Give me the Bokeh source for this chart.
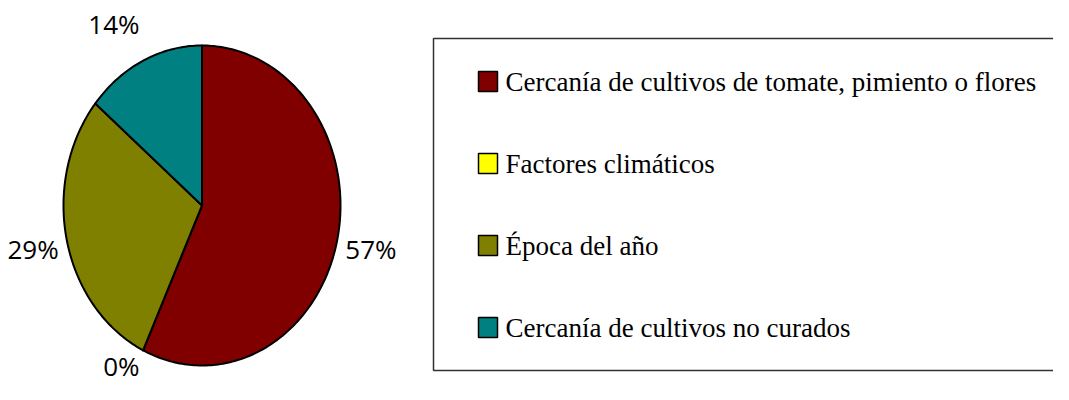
import numpy as np
from bokeh.plotting import figure
from bokeh.models import Range1d, ColumnDataSource
from bokeh.core.properties import value
from bokeh.embed import file_html
from bokeh.resources import INLINE

# ---- data ----
categories = [
    "Cercanía de cultivos de tomate, pimiento o flores",
    "Factores climáticos",
    "Época del año",
    "Cercanía de cultivos no curados",
]
values = [57, 0, 29, 14]
colors = ["#800000", "#FFFF00", "#808000", "#008080"]

# ---- figure (pixel-like coordinates, y downward) ----
W, H = 1053, 384
p = figure(width=W, height=H, x_range=Range1d(0, W), y_range=Range1d(H, 0),
           output_backend="svg", toolbar_location=None, min_border=0)
p.axis.visible = False
p.grid.visible = False
p.outline_line_color = None
p.background_fill_color = "white"
p.border_fill_color = "white"

# ---- pie (elliptical) ----
cx, cy, rx, ry = 201.5, 205.0, 138.5, 160.0
total = float(sum(values))
cum = np.concatenate([[0.0], np.cumsum(values)]) / total * 2 * np.pi
xs, ys = [], []
for i in range(len(values)):
    a0, a1 = cum[i], cum[i + 1]
    n = max(2, int(np.degrees(a1 - a0)) + 2)
    t = np.linspace(a0, a1, n)
    xs.append([cx] + list(cx + rx * np.sin(t)))
    ys.append([cy] + list(cy - ry * np.cos(t)))
pie_src = ColumnDataSource(dict(xs=xs, ys=ys, color=colors))
p.patches("xs", "ys", source=pie_src, fill_color="color", line_color="black",
          line_width=2, line_join="round")

# ---- percentage labels ----
mid = (cum[:-1] + cum[1:]) / 2
sx, cyv = np.sin(mid), np.cos(mid)
lab_y = np.clip(cy - ry * cyv * 1.255, 19, H - 19)
lab_src = ColumnDataSource(dict(
    x=cx + rx * sx * 1.06,
    y=lab_y,
    text=[f"{v}%" for v in values],
    align=["left" if s > 0 else "right" for s in sx],
))
p.text("x", "y", text="text", source=lab_src, text_align="align",
       text_baseline="middle", text_font=value("Open Sans"),
       text_font_size="26px", text_color="black")

# ---- legend ----
p.quad(left=[433], right=[W + 30], top=[38], bottom=[370],
       fill_color="white", line_color="#333333", line_width=1.5)
leg_y = [81 + 82 * i for i in range(len(categories))]
leg_src = ColumnDataSource(dict(y=leg_y, text=categories, color=colors))
p.rect(x=487.5, y="y", width=19, height=20, source=leg_src,
       fill_color="color", line_color="black", line_width=1.5)
p.text(x=505, y="y", text="text", source=leg_src, text_align="left",
       text_baseline="middle", text_font=value("Liberation Serif"),
       text_font_size="27px", text_color="black")

open("out.html", "w").write(file_html(p, INLINE))
